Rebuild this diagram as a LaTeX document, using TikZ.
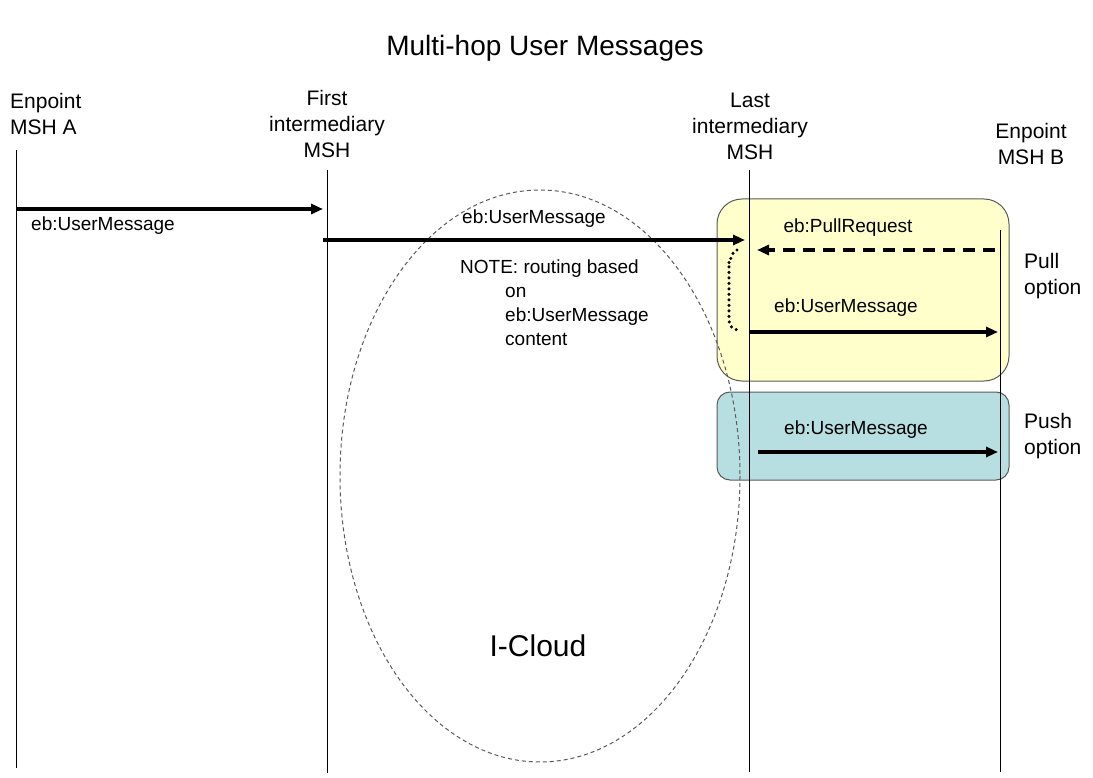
\documentclass[tikz,border=0pt]{standalone}
\usepackage{fontspec}
\setmainfont{Liberation Sans}
\usetikzlibrary{arrows.meta}
\definecolor{pullfill}{HTML}{FFFFCC}
\definecolor{pushfill}{HTML}{B7DEE1}
\definecolor{edgegray}{HTML}{5A5A5A}
\tikzset{
  msg/.style={line width=3.2pt,-{Triangle[length=12pt,width=10pt]}},
  life/.style={line width=1pt},
  lbl/.style={inner sep=0pt,font=\fontsize{19}{24}\selectfont},
  hdr/.style={inner sep=0pt,align=center,font=\fontsize{21}{26}\selectfont},
  optbox/.style={draw=edgegray,line width=1pt},
  cloudline/.style={draw=edgegray,line width=1pt,dash pattern=on 4pt off 3pt},
}
\def\dmsg{\draw[msg]}
\def\dlife{\draw[life]}

\begin{document}
\begin{tikzpicture}[x=1pt,y=-1pt]
  \useasboundingbox (0,0) rectangle (1093,778);
  \node[font=\fontsize{28}{34}\selectfont] (title) at (545,48) {Multi-hop User Messages};

  % lifeline heads
  \node[hdr,align=left,anchor=north west] (hA) at (10,93) {Enpoint\\MSH A};
  \node[hdr,anchor=north] (hF) at (327,90) {First\\intermediary\\MSH};
  \node[hdr,anchor=north] (hL) at (750,93) {Last\\intermediary\\MSH};
  \node[hdr,anchor=north] (hB) at (1031,123) {Enpoint\\MSH B};

  % pull / push options
  \draw[optbox,fill=pullfill,rounded corners=25pt] (717,199) rectangle (1009,381);
  \draw[optbox,fill=pushfill,rounded corners=13pt] (717,392) rectangle (1009,480);
  \node[hdr,align=left,anchor=north west] (pull) at (1024,253) {Pull\\option};
  \node[hdr,align=left,anchor=north west] (push) at (1024,413) {Push\\option};

  % cloud
  \draw[cloudline] (540,476) ellipse [x radius=200,y radius=286];
  \node[font=\fontsize{30}{36}\selectfont] (cloud) at (538,646) {I-Cloud};

  \coordinate (Atop) at (16,150);  \coordinate (Abot) at (16,768);
  \coordinate (Ftop) at (327,170); \coordinate (Fbot) at (327,773);
  \coordinate (Ltop) at (749,170); \coordinate (Lbot) at (749,772);
  \coordinate (Btop) at (1000,230);\coordinate (Bbot) at (1000,772);
  \dlife (Atop) -- (Abot);
  \dlife (Ftop) -- (Fbot);
  \dlife (Ltop) -- (Lbot);
  \dlife (Btop) -- (Bbot);

  % messages
  \coordinate (a1) at (16,209);  \coordinate (f1) at (323,209);
  \coordinate (f2) at (323,240); \coordinate (l1) at (745,240);
  \coordinate (b1) at (995,250); \coordinate (l2) at (757,250);
  \coordinate (l3) at (749,332); \coordinate (b2) at (998,332);
  \coordinate (l4) at (758,452); \coordinate (b3) at (998,452);
  \coordinate (d1) at (737,250); \coordinate (d2) at (738,330);
  \dmsg (a1) -- (f1);
  \dmsg (f2) -- (l1);
  \dmsg[dash pattern=on 12pt off 8pt] (b1) -- (l2);
  \dmsg (l3) -- (b2);
  \dmsg (l4) -- (b3);
  \draw[line width=3.4pt,line cap=round,dash pattern=on 0pt off 5.5pt]
    (d1) to[out=180,in=-90] ++(-8,12) -- ++(0,58) to[out=-90,in=180] (d2);

  \node[lbl] (m1) at (103,226) {eb:UserMessage};
  \node[lbl] (m2) at (534,219) {eb:UserMessage};
  \node[lbl] (pr) at (848,228) {eb:PullRequest};
  \node[lbl] (m3) at (846,308) {eb:UserMessage};
  \node[lbl] (m4) at (856,430) {eb:UserMessage};
  \node[lbl,align=left,anchor=north west] (note) at (460,260)
    {NOTE: routing based\\\hspace*{45pt}on\\\hspace*{45pt}eb:UserMessage\\\hspace*{45pt}content};
\end{tikzpicture}
\end{document}
